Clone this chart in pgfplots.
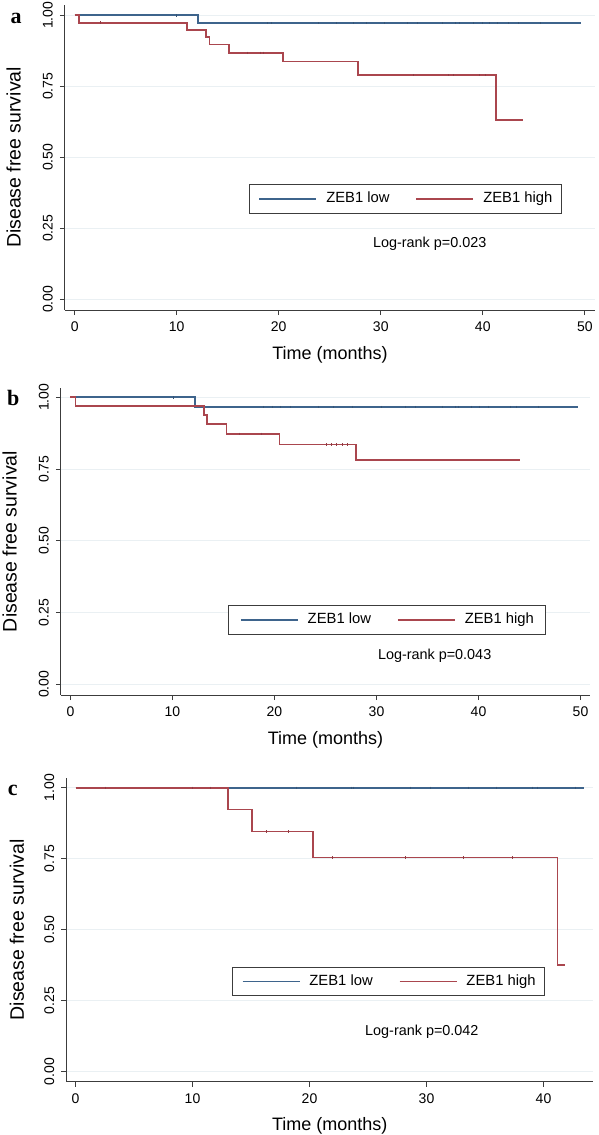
\documentclass[border=0pt]{standalone}
\usepackage{fontspec}
\setmainfont{Liberation Sans}
\newfontfamily\panelfont{Liberation Serif}
\usepackage{pgfplots}
\pgfplotsset{compat=1.18}
\definecolor{kmblue}{RGB}{62,100,140}
\definecolor{kmred}{RGB}{170,70,78}
\definecolor{gridc}{RGB}{234,240,243}
\definecolor{axc}{RGB}{60,60,60}
\pgfplotsset{km/.style={
  scale only axis, anchor=south west,
  axis lines=left,
  axis line style={-, draw=axc, line width=1pt},
  tick align=outside, major tick length=5pt,
  every tick/.style={draw=axc, line width=1pt},
  ytick={0,0.25,0.5,0.75,1}, yticklabels={0.00,0.25,0.50,0.75,1.00},
  ymajorgrids, grid style={draw=gridc, line width=0.8pt},
  /pgf/number format/assume math mode=true,
  tick label style={font=\fontsize{14}{16}\selectfont},
  yticklabel style={rotate=90, anchor=south, inner sep=0pt},
  xticklabel style={anchor=north, inner sep=0pt},
  yticklabel shift=7pt, xticklabel shift=6.5pt,
  xlabel={Time (months)}, ylabel={Disease free survival},
  xlabel style={font=\fontsize{18}{21}\selectfont},
  ylabel style={font=\fontsize{19.5}{22}\selectfont},
  xlabel style={at={(axis description cs:0.5,0)}, anchor=north, inner sep=0pt, yshift=-36pt},
  legend columns=2,
  legend image code/.code={\draw[##1] (0pt,0pt) -- (57pt,0pt);},
  legend style={draw=axc, line width=0.9pt, fill=white,
    font=\fontsize{14.8}{17}\selectfont, inner xsep=9pt, inner ysep=7.5pt,
    anchor=north west,
    nodes={inner sep=0pt, text height=10.6pt, text depth=3pt},
    /tikz/every odd column/.append style={column sep=9pt},
    /tikz/every even column/.append style={column sep=26pt}},
  blueline/.style={kmblue, line width=1.7pt, mark=none},
  redline/.style={kmred, line width=1.7pt, mark=none},
  bluecens/.style={kmblue!85!black, only marks, mark=|, mark size=1.2pt, mark options={line width=0.5pt}, forget plot},
  redcens/.style={kmred!85!black, only marks, mark=|, mark size=1.2pt, mark options={line width=0.5pt}, forget plot},
}}
\begin{document}
\begin{tikzpicture}
\path[use as bounding box] (0pt,0pt) rectangle (598pt,-1135pt);

% ---------------- panel a ----------------
\begin{axis}[km, at={(65pt,-310pt)}, width=530pt, height=305pt,
  xmin=-0.95, xmax=51.0, ymin=-0.0377, ymax=1.0363,
  xtick={0,10,20,30,40,50},
  ylabel style={at={(axis description cs:-0.083,0.5)}, anchor=south, inner sep=0pt},
  legend style={at={(axis cs:17.1,0.405)}}]
\addplot[blueline] coordinates {(0,1) (12.1,1) (12.1,0.972) (49.6,0.972)};
\addlegendentry{ZEB1 low}
\addplot[redline] coordinates {(0,1) (0.45,1) (0.45,0.974) (11.0,0.974) (11.0,0.948) (12.9,0.948) (12.9,0.924) (13.2,0.924) (13.2,0.897) (15.15,0.897) (15.15,0.868) (20.4,0.868) (20.4,0.837) (27.8,0.837) (27.8,0.789) (41.3,0.789) (41.3,0.632) (43.9,0.632)};
\addlegendentry{ZEB1 high}
\addplot[bluecens] coordinates {(10.0,1) (18.9,0.972) (19.3,0.972) (23.9,0.972) (25.6,0.972) (27.3,0.972) (28.6,0.972) (30.3,0.972) (32.6,0.972) (33.6,0.972) (36.0,0.972) (37.3,0.972) (37.7,0.972) (39.1,0.972) (39.9,0.972) (40.6,0.972) (41.4,0.972) (42.5,0.972) (43.5,0.972) (45.6,0.972)};
\addplot[redcens] coordinates {(2.5,0.974) (16.9,0.868) (18.2,0.868) (18.5,0.868) (33.2,0.789) (36.6,0.789) (37.1,0.789) (39.7,0.789) (40.2,0.789)};
\node[font=\fontsize{14.4}{17}\selectfont] at (axis cs:34.8,0.194) {Log-rank p=0.023};
\end{axis}
\node[font=\panelfont\bfseries\fontsize{22}{24}\selectfont] at (16pt,-18.7pt) {a};

% ---------------- panel b ----------------
\begin{axis}[km, at={(61pt,-695pt)}, width=529pt, height=307pt,
  xmin=-0.93, xmax=50.93, ymin=-0.0373, ymax=1.0324,
  xtick={0,10,20,30,40,50},
  ylabel style={at={(axis description cs:-0.083,0.5)}, anchor=south, inner sep=0pt},
  legend style={at={(axis cs:15.4,0.275)}, inner xsep=12pt}]
\addplot[blueline] coordinates {(0,1) (12.2,1) (12.2,0.966) (49.8,0.966)};
\addlegendentry{ZEB1 low}
\addplot[redline] coordinates {(0,1) (0.5,1) (0.5,0.970) (13.1,0.970) (13.1,0.938) (13.35,0.938) (13.35,0.906) (15.3,0.906) (15.3,0.873) (20.5,0.873) (20.5,0.836) (27.96,0.836) (27.96,0.781) (44.06,0.781)};
\addlegendentry{ZEB1 high}
\addplot[bluecens] coordinates {(10.1,1) (18.9,0.966) (19.8,0.966) (20.6,0.966) (21.5,0.966) (24.3,0.966) (25.8,0.966) (27.6,0.966) (30.5,0.966) (32.8,0.966) (33.8,0.966) (36.4,0.966) (37.7,0.966) (38.0,0.966) (39.3,0.966) (40.1,0.966) (41.0,0.966) (43.1,0.966) (43.7,0.966) (45.9,0.966)};
\addplot[redcens] coordinates {(16.5,0.873) (18.7,0.873) (25.1,0.836) (25.6,0.836) (26.1,0.836) (26.6,0.836) (27.1,0.836)};
\node[font=\fontsize{14.4}{17}\selectfont] at (axis cs:35.7,0.10) {Log-rank p=0.043};
\end{axis}
\node[font=\panelfont\bfseries\fontsize{22}{24}\selectfont] at (13.3pt,-398pt) {b};

% ---------------- panel c ----------------
\begin{axis}[km, at={(66.4pt,-1081.7pt)}, width=526.6pt, height=303.7pt,
  xmin=-0.78, xmax=44.23, ymin=-0.0352, ymax=1.0342,
  xtick={0,10,20,30,40},
  ylabel style={at={(axis description cs:-0.080,0.5)}, anchor=south, inner sep=0pt},
  legend style={at={(axis cs:13.4,0.370)}}]
\addplot[blueline] coordinates {(0,1) (43.5,1)};
\addlegendentry{ZEB1 low}
\addplot[redline] coordinates {(0,1) (13.06,1) (13.06,0.923) (15.1,0.923) (15.1,0.846) (20.3,0.846) (20.3,0.754) (41.2,0.754) (41.2,0.377) (41.8,0.377)};
\addlegendentry{ZEB1 high}
\addplot[bluecens] coordinates {(18.9,1) (23.6,1) (23.7,1) (28.6,1) (30.3,1) (33.6,1) (36.0,1) (39.0,1) (39.5,1) (42.7,1)};
\addplot[redcens] coordinates {(2.5,1) (10.0,1) (11.5,1) (16.3,0.846) (18.2,0.846) (21.9,0.754) (28.2,0.754) (33.1,0.754) (37.3,0.754)};
\node[font=\fontsize{14.4}{17}\selectfont] at (axis cs:29.6,0.139) {Log-rank p=0.042};
\end{axis}
\node[font=\panelfont\bfseries\fontsize{22}{24}\selectfont] at (12.7pt,-790pt) {c};
\end{tikzpicture}
\end{document}
